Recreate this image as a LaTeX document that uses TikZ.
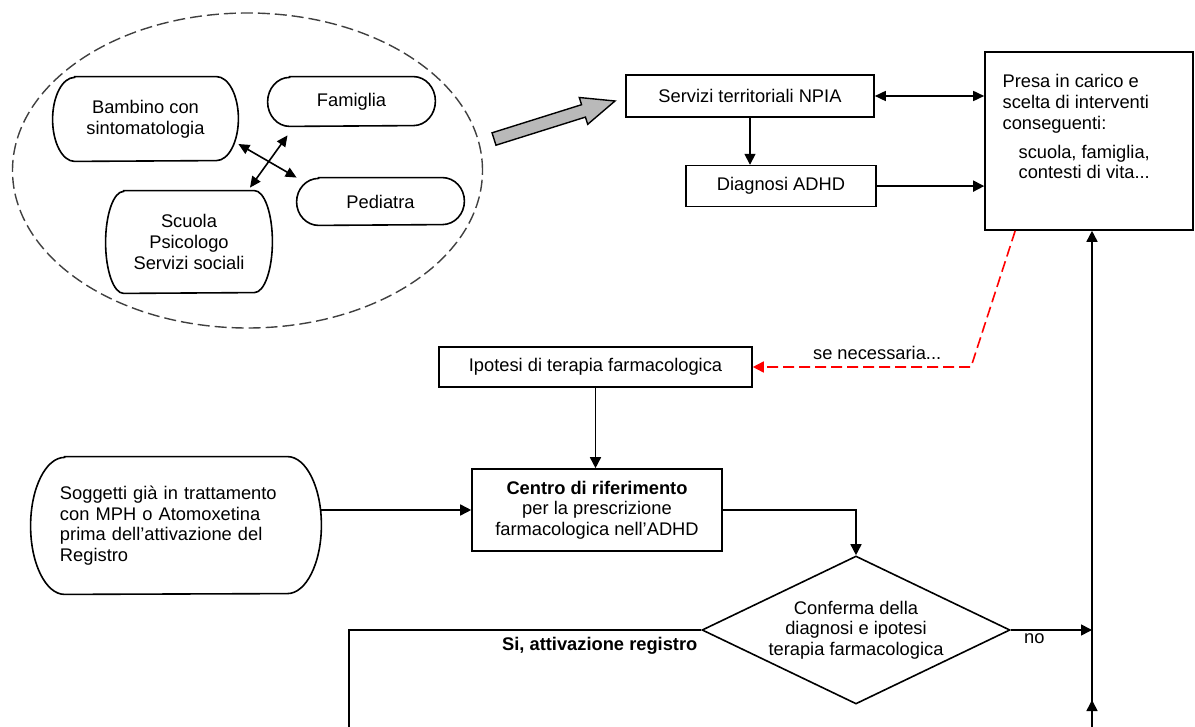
\documentclass[tikz,border=0pt]{standalone}
\usepackage{fontspec}
\setmainfont{Liberation Sans}
\usepackage{tikz}
\usetikzlibrary{arrows.meta, positioning, shapes.geometric, calc}
\tikzstyle{box} = [rectangle, draw=black, line width=0.8pt, text centered, inner sep=2pt]
\tikzstyle{pill} = [rectangle, align=center, inner sep=2pt]
\tikzstyle{decision} = [diamond, draw=black, line width=0.8pt, align=center, aspect=2.08, minimum width=154pt, minimum height=74pt, inner sep=0pt]
\tikzstyle{arrow} = [line width=0.8pt, -{Triangle[length=5.5pt,width=5.5pt]}]
\tikzstyle{dblarrow} = [line width=0.8pt, {Triangle[length=5.5pt,width=5pt]}-{Triangle[length=5.5pt,width=5pt]}]
\tikzstyle{line} = [line width=0.8pt]
\tikzstyle{redarrow} = [line width=0.8pt, red, dash pattern=on 5.5pt off 2.5pt, -{Triangle[length=5.5pt,width=5.5pt]}]
% contorno con estremi ellittici: nodo, raggio x, raggio y
\newcommand{\contorno}[3]{\draw [line width=0.8pt] ([xshift=#2]#1.north west) -- ([xshift=-#2]#1.north east) arc[start angle=90, end angle=-90, x radius=#2, y radius=#3] -- ([xshift=#2]#1.south west) arc[start angle=270, end angle=90, x radius=#2, y radius=#3] -- cycle;}

\begin{document}
\begin{tikzpicture}[x=0.5pt, y=-0.5pt, font=\fontsize{9.15pt}{10.3pt}\selectfont]
    \useasboundingbox (0,0) rectangle (1195,727);

    % --- Rete attorno al bambino ---
    \node (gruppo) [ellipse, draw=black!75, dash pattern=on 6pt off 2.5pt, line width=0.7pt, minimum width=235pt, minimum height=157.5pt, inner sep=0pt] at (247.5,170.5) {};
    \node (bambino) [pill, minimum width=92.5pt, minimum height=42pt] at (145.5,119) {Bambino con\\sintomatologia};
    \node (famiglia) [pill, minimum width=83.5pt, minimum height=24.5pt] at (351.5,101.5) {Famiglia};
    \node (pediatra) [pill, minimum width=83.5pt, minimum height=23.5pt] at (380.5,201.5) {Pediatra};
    \node (scuola) [pill, minimum width=83pt, minimum height=51pt] at (189,242) {Scuola\\Psicologo\\Servizi sociali};
    \contorno{bambino}{11pt}{21pt}
    \contorno{famiglia}{11pt}{12.25pt}
    \contorno{pediatra}{11pt}{11.75pt}
    \contorno{scuola}{9pt}{25.5pt}

    \draw [dblarrow] ([yshift=-12.5pt]bambino.east) -- (pediatra.north -| pediatra.west);
    \draw [dblarrow] ([xshift=-32pt,yshift=-4.5pt]famiglia.south) -- ([xshift=30.5pt,yshift=1.5pt]scuola.north);

    % freccia grigia verso i servizi
    \draw [line width=0.7pt, fill=gray!55] (495.95,145.2) -- (585.45,117.1) -- (587.7,124.3) -- (615,101) -- (579.3,97.5) -- (581.55,104.7) -- (492.05,132.8) -- cycle;

    % --- Servizi NPIA ---
    \node (servizi) [box, minimum width=124pt, minimum height=21pt] at (750,96) {Servizi territoriali NPIA};
    \node (diagnosi) [box, minimum width=95pt, minimum height=20.5pt, below=23.5pt of servizi, xshift=15.5pt] {Diagnosi ADHD};
    \node (presa) [box, minimum width=104pt, minimum height=89pt] at (1089,141) {};
    \node (presatesto) [anchor=north west, align=left, inner sep=0pt] at ([xshift=9pt,yshift=-11.5pt]presa.north west) {Presa in carico e\\scelta di interventi\\conseguenti:\\[4.25pt]\hspace{8pt}scuola, famiglia,\\\hspace{8pt}contesti di vita...};

    % --- Terapia farmacologica ---
    \node (ipotesi) [box, minimum width=156.5pt, minimum height=20pt] at (595.5,367) {Ipotesi di terapia farmacologica};
    \node (centro) [box, align=center, minimum width=125pt, minimum height=41pt] at (597,510) {\textbf{Centro di riferimento}\\per la prescrizione\\farmacologica nell’ADHD};
    \node (soggetti) [pill, minimum width=145pt, minimum height=68.5pt, text width=116pt, inner xsep=0pt, align=left] at (176,525.5) {Soggetti già in trattamento\\con MPH o Atomoxetina\\prima dell’attivazione del\\Registro};
    \contorno{soggetti}{17pt}{34.25pt}
    \node (conferma) [decision] at (856,630) {Conferma della\\diagnosi e ipotesi\\terapia farmacologica};

    \coordinate (piega) at (971,367);
    \coordinate (spina) at (1092,727);
    \coordinate (sibase) at (349,727);

    % --- Frecce ---
    \draw [dblarrow] (servizi.east) -- (servizi.east -| presa.west);
    \draw [arrow] (servizi.south) -- (servizi.south |- diagnosi.north);
    \draw [arrow] (diagnosi.east) -- (diagnosi.east -| presa.west);
    \draw [redarrow] ([xshift=15.5pt]presa.south west) -- (piega) -- node[pos=0.43, above, text=black] {se necessaria...} (ipotesi.east);
    \draw [arrow] (ipotesi.south) -- (ipotesi.south |- centro.north);
    \draw [arrow] (soggetti.east |- centro.west) -- (centro.west);
    \draw [arrow] (centro.east) -| (conferma.north);
    \draw [arrow] (conferma.east) -- node[pos=0.29, below, inner sep=1.5pt] {no} (conferma.east -| spina);
    \draw [line] (conferma.west) -| node[pos=0.144, below] {\textbf{Si, attivazione registro}} (sibase);
    \draw [arrow] (spina) -- (spina |- presa.south);
    \draw [arrow] (spina) -- ++(0,-27);

\end{tikzpicture}
\end{document}
